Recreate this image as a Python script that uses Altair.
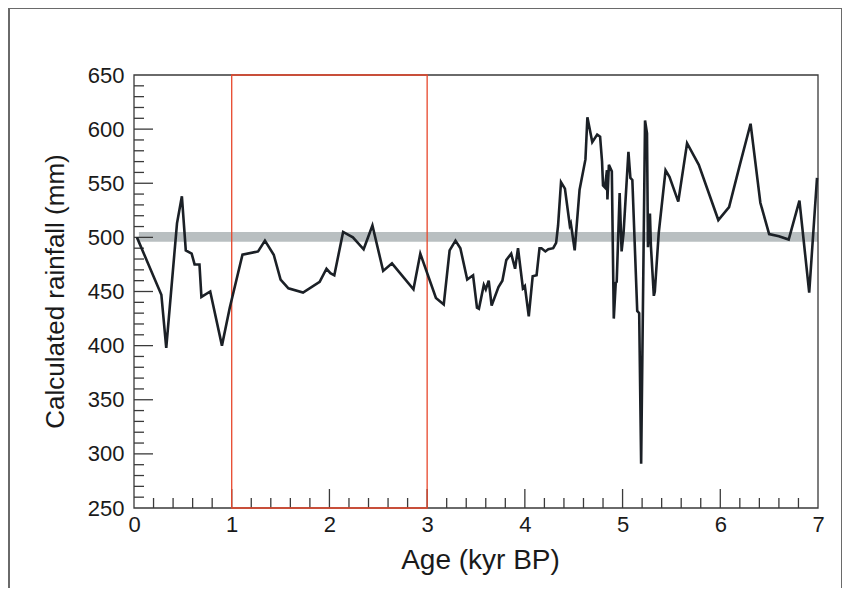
import altair as alt
import pandas as pd

age = [0.03, 0.28, 0.33, 0.44, 0.49, 0.53, 0.59, 0.62, 0.67, 0.69, 0.78, 0.90, 0.98,
       1.11, 1.27, 1.34, 1.43, 1.50, 1.58, 1.73, 1.90, 1.97, 2.01, 2.05, 2.14, 2.24,
       2.35, 2.44, 2.55, 2.64, 2.86, 2.93, 3.09, 3.17, 3.23, 3.29, 3.34, 3.41, 3.47,
       3.51, 3.53, 3.58, 3.60, 3.63, 3.66, 3.73, 3.77, 3.81, 3.86, 3.90, 3.93, 3.98,
       4.00, 4.04, 4.08, 4.12, 4.15, 4.17, 4.21, 4.24, 4.29, 4.32, 4.34, 4.37, 4.41,
       4.46, 4.47, 4.48, 4.51, 4.56, 4.62, 4.64, 4.69, 4.74, 4.77, 4.79, 4.80, 4.82,
       4.84, 4.845, 4.86, 4.89, 4.91, 4.93, 4.94, 4.97, 4.99, 5.01, 5.06, 5.08, 5.10,
       5.15, 5.17, 5.19, 5.23, 5.25, 5.26, 5.28, 5.29, 5.32, 5.33, 5.37, 5.44, 5.48,
       5.57, 5.66, 5.78, 5.98, 6.09, 6.20, 6.31, 6.41, 6.50, 6.60, 6.70, 6.81, 6.91, 6.99]
rain = [500, 447, 398, 513, 538, 488, 485, 475, 475, 445, 450, 400, 435,
        484, 487, 497, 484, 461, 453, 449, 459, 471, 467, 465, 505, 500,
        489, 511, 469, 476, 452, 485, 444, 438, 488, 497, 490, 461, 465,
        435, 434, 456, 452, 460, 437, 454, 460, 479, 485, 471, 490, 453,
        455, 427, 464, 465, 490, 490, 487, 489, 490, 495, 511, 551, 545,
        511, 513, 507, 488, 544, 572, 611, 588, 595, 593, 570, 548, 546,
        562, 535, 567, 561, 425, 458, 459, 541, 487, 504, 579, 555, 553,
        432, 430, 291, 608, 596, 491, 522, 492, 446, 450, 504, 562, 556,
        533, 587, 567, 516, 528, 567, 605, 532, 503, 501, 498, 534, 449, 555]

# Reference band and highlighted interval
band_x = [0.05, 7.0]
band_y = [496, 505]
box_x = [1, 3]
box_y = [250, 650]

x_labels = [0, 1, 2, 3, 4, 5, 6, 7]
y_labels = [250, 300, 350, 400, 450, 500, 550, 600, 650]
x_major_ticks = [1, 2, 3, 4, 5, 6]
x_minor_ticks = [round(0.2 * i, 1) for i in range(1, 35) if i % 5 != 0]
y_major_ticks = [300, 350, 400, 450, 500, 550, 600]
y_minor_ticks = [v for v in range(260, 650, 10) if v % 50 != 0]

W, H = 684, 433
FONT = "Liberation Sans"

xs = alt.Scale(domain=[0, 7], nice=False, zero=False)
ys = alt.Scale(domain=[250, 650], nice=False, zero=False)

xaxis = alt.Axis(values=x_labels, title="Age (kyr BP)", grid=False,
                 ticks=False, domain=False, labelFontSize=22,
                 labelFont=FONT, labelColor="#1a1a1a", labelPadding=6,
                 titleFont=FONT, titleFontSize=28, titleFontWeight="normal",
                 titleColor="#1a1a1a", titleX=346, titleY=52,
                 titleBaseline="middle", titleAlign="center", labelFlush=False)
yaxis = alt.Axis(values=y_labels, title="Calculated rainfall (mm)",
                 grid=False, ticks=False, domain=False, labelFontSize=22,
                 labelFont=FONT, labelColor="#1a1a1a", labelPadding=10,
                 titleFont=FONT, titleFontSize=26, titleFontWeight="normal",
                 titleColor="#1a1a1a", titleX=-79, titleY=216,
                 titleBaseline="middle", titleAlign="center", labelFlush=False)

df = pd.DataFrame({"age": age, "rain": rain})

band = alt.Chart(pd.DataFrame({"x": [band_x[0]], "x2": [band_x[1]],
                               "y": [band_y[0]], "y2": [band_y[1]]})).mark_rect(
    color="#b9bfc1").encode(
    x=alt.X("x:Q", scale=xs, axis=xaxis), x2="x2:Q",
    y=alt.Y("y:Q", scale=ys, axis=yaxis), y2="y2:Q")

frame = alt.Chart(pd.DataFrame({"a": [0]})).mark_rect(
    fill=None, stroke="#3a3a3a", strokeWidth=1.3).encode(
    x=alt.value(0), x2=alt.value(W), y=alt.value(0), y2=alt.value(H))

outer = alt.Chart(pd.DataFrame({"a": [0]})).mark_rect(
    fill=None, stroke="#6a6a6a", strokeWidth=2, clip=False).encode(
    x=alt.value(-125), x2=alt.value(708), y=alt.value(-67), y2=alt.value(600))

redbox = alt.Chart(pd.DataFrame({"x": [box_x[0]], "x2": [box_x[1]],
                                 "y": [box_y[0]], "y2": [box_y[1]]})).mark_rect(
    fill=None, stroke="#e8472b", strokeWidth=1.3).encode(
    x=alt.X("x:Q", scale=xs, axis=xaxis), x2="x2:Q",
    y=alt.Y("y:Q", scale=ys, axis=yaxis), y2="y2:Q")

xmaj = alt.Chart(pd.DataFrame({"t": x_major_ticks})).mark_rule(
    color="#3a3a3a", strokeWidth=1.3).encode(
    x=alt.X("t:Q", scale=xs, axis=xaxis), y=alt.value(H), y2=alt.value(H - 19))
xmin = alt.Chart(pd.DataFrame({"t": x_minor_ticks})).mark_rule(
    color="#3a3a3a", strokeWidth=1.3).encode(
    x=alt.X("t:Q", scale=xs, axis=xaxis), y=alt.value(H), y2=alt.value(H - 10))
ymaj = alt.Chart(pd.DataFrame({"t": y_major_ticks})).mark_rule(
    color="#3a3a3a", strokeWidth=1.3).encode(
    y=alt.Y("t:Q", scale=ys, axis=yaxis), x=alt.value(0), x2=alt.value(19))
ymin = alt.Chart(pd.DataFrame({"t": y_minor_ticks})).mark_rule(
    color="#3a3a3a", strokeWidth=1.3).encode(
    y=alt.Y("t:Q", scale=ys, axis=yaxis), x=alt.value(0), x2=alt.value(10))

line = alt.Chart(df).mark_line(color="#1b2026", strokeWidth=2.6).encode(
    x=alt.X("age:Q", scale=xs, axis=xaxis),
    y=alt.Y("rain:Q", scale=ys, axis=yaxis),
)

chart = alt.layer(outer, band, xmin, xmaj, ymin, ymaj, frame, redbox, line).properties(
    width=W, height=H,
    autosize=alt.AutoSizeParams(type="none"),
    padding={"left": 126, "top": 67, "right": 24, "bottom": 80},
).configure_view(stroke=None)

chart.save("out.html", embed_options={"renderer": "svg", "actions": False})
